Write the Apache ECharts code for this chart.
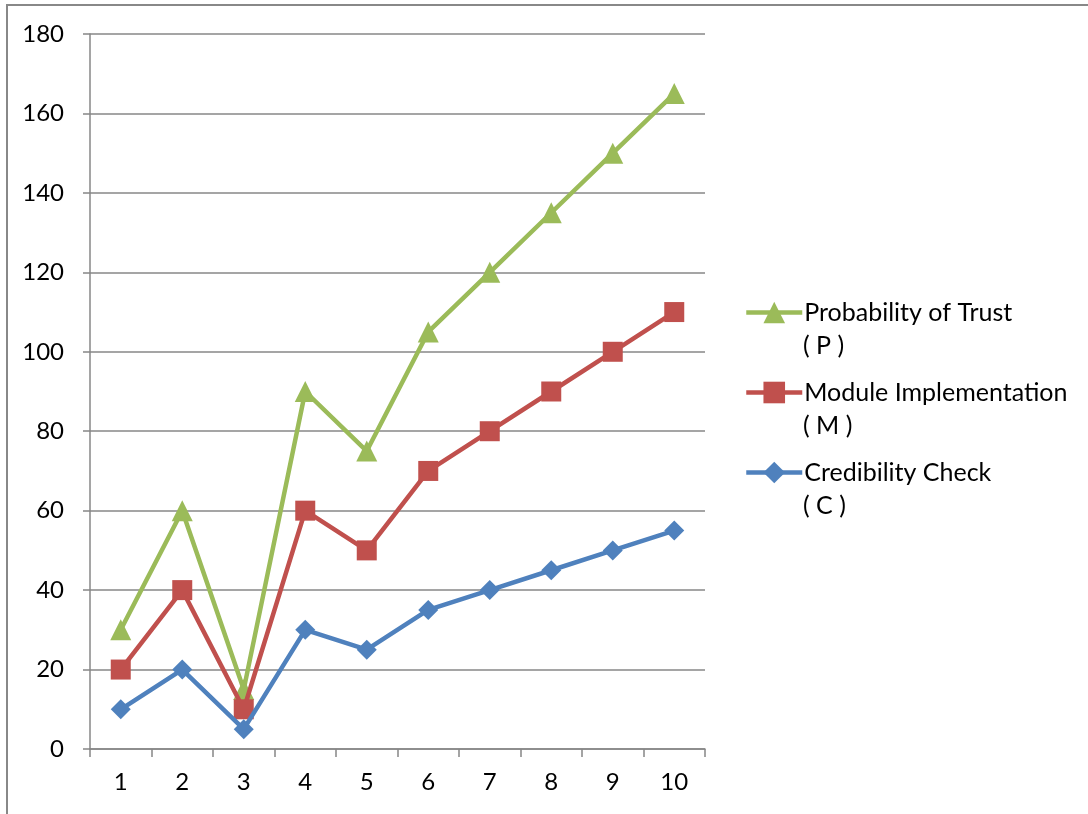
<!DOCTYPE html>
<html>
<head>
<meta charset="utf-8">
<script src="https://cdn.jsdelivr.net/npm/echarts@6/dist/echarts.min.js"></script>
<style>
  html, body { margin: 0; padding: 0; background: #fff; }
  #chart { width: 1088px; height: 814px; }
</style>
</head>
<body>
<div id="chart"></div>
<script>
// Categories along the x axis
const categories = ['1', '2', '3', '4', '5', '6', '7', '8', '9', '10'];

// Series values
const trustValues = [30, 60, 15, 90, 75, 105, 120, 135, 150, 165];
const moduleValues = [20, 40, 10, 60, 50, 70, 80, 90, 100, 110];
const credibilityValues = [10, 20, 5, 30, 25, 35, 40, 45, 50, 55];

// Series names (first line in legend) and their short codes (second line)
const seriesNames = ['Probability of Trust', 'Module Implementation', 'Credibility Check'];
const seriesCodes = ['( P )', '( M )', '( C )'];

const FONT = 'Lato, "Open Sans", sans-serif';
const AXIS_FONT_SIZE = 24;
const LEGEND_FONT_SIZE = 25;
const GRID_GRAY = '#878787';
const colors = ['#9BBB59', '#C0504D', '#4F81BD'];

const chart = echarts.init(document.getElementById('chart'));

const legendTop = 300;
const legendGap = 80;
const legendItemH = 27;

chart.setOption({
  animation: false,
  textStyle: { fontFamily: FONT },
  grid: { left: 90, right: 383, top: 34, bottom: 65 },
  xAxis: {
    type: 'category',
    data: categories,
    boundaryGap: true,
    axisLine: { lineStyle: { color: GRID_GRAY, width: 1.5 } },
    axisTick: { show: true, length: 8, lineStyle: { color: GRID_GRAY, width: 1.5 } },
    axisLabel: { color: '#000', fontSize: AXIS_FONT_SIZE, fontFamily: FONT, margin: 21 },
    splitLine: { show: false }
  },
  yAxis: {
    type: 'value',
    min: 0,
    max: 180,
    interval: 20,
    axisLine: { show: true, lineStyle: { color: GRID_GRAY, width: 1.5 } },
    axisTick: { show: true, length: 7, lineStyle: { color: GRID_GRAY, width: 1.5 } },
    axisLabel: { color: '#000', fontSize: AXIS_FONT_SIZE, fontFamily: FONT, margin: 26 },
    splitLine: { show: true, lineStyle: { color: GRID_GRAY, width: 1.5 } }
  },
  legend: {
    orient: 'vertical',
    left: 744,
    top: legendTop,
    padding: 0,
    itemWidth: 56,
    itemHeight: legendItemH,
    itemGap: 55,
    lineStyle: { width: 4.5 },
    textStyle: { color: '#000', fontSize: LEGEND_FONT_SIZE, fontFamily: FONT, padding: [0, 0, 0, -3] },
    data: seriesNames
  },
  graphic: [
    // outer frame (top and left edges visible)
    {
      type: 'rect',
      shape: { x: 7, y: 5, width: 1200, height: 1000 },
      style: { fill: 'none', stroke: '#888', lineWidth: 2 },
      silent: true
    },
    ...seriesCodes.map((code, i) => ({
      type: 'text',
      left: 803,
      top: legendTop + 33 + i * legendGap,
      style: { text: code, fill: '#000', font: LEGEND_FONT_SIZE + 'px ' + FONT }
    }))
  ],
  series: [
    {
      name: seriesNames[0],
      type: 'line',
      data: trustValues,
      symbol: 'triangle',
      symbolSize: 21,
      lineStyle: { width: 4.5, color: colors[0] },
      itemStyle: { color: colors[0] },
      z: 2
    },
    {
      name: seriesNames[1],
      type: 'line',
      data: moduleValues,
      symbol: 'rect',
      symbolSize: 20,
      lineStyle: { width: 4.5, color: colors[1] },
      itemStyle: { color: colors[1] },
      z: 3
    },
    {
      name: seriesNames[2],
      type: 'line',
      data: credibilityValues,
      symbol: 'diamond',
      symbolSize: 20,
      lineStyle: { width: 4.5, color: colors[2] },
      itemStyle: { color: colors[2] },
      z: 4
    }
  ]
});
</script>
</body>
</html>
